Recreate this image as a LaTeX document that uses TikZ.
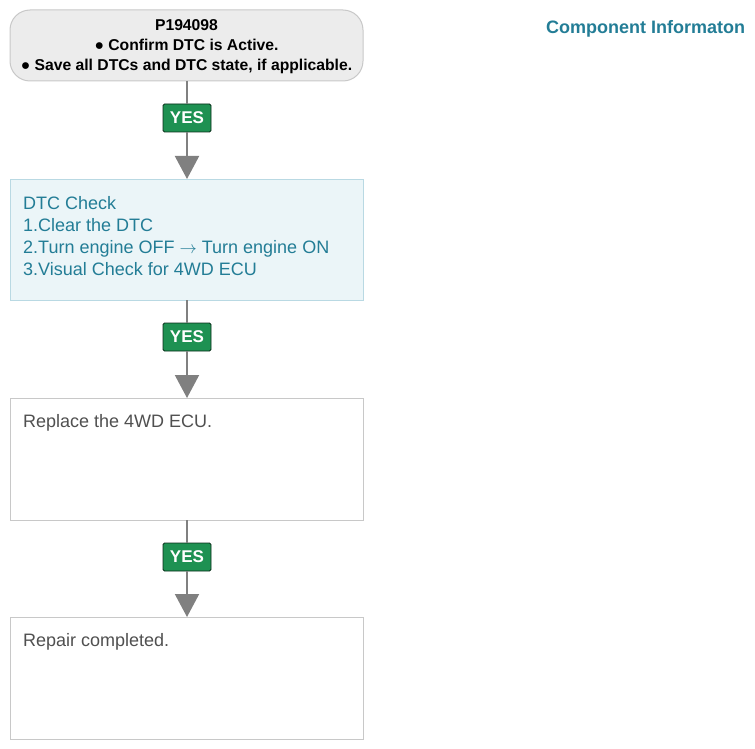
\documentclass[tikz,border=0pt]{standalone}
\usepackage{fontspec}
\setmainfont{Liberation Sans}
\usetikzlibrary{arrows.meta}
\definecolor{teal}{HTML}{237D96}
\definecolor{boxgray}{HTML}{C8C8C8}
\definecolor{topfill}{HTML}{ECECEC}
\definecolor{bluefill}{HTML}{EBF5F8}
\definecolor{blueline}{HTML}{B9D9E3}
\definecolor{yesgreen}{HTML}{1E9152}
\definecolor{linegray}{HTML}{808080}
\definecolor{txtgray}{HTML}{505050}
\begin{document}
\begin{tikzpicture}[x=1pt,y=-1pt,
  yesbox/.style={fill=yesgreen,draw=black!70!yesgreen,line width=0.8pt,rounded corners=1.5pt,minimum width=48pt,minimum height=28pt,inner sep=0pt,text=white,font=\bfseries\fontsize{17}{17}\selectfont},
  conn/.style={draw=linegray,line width=2pt},
  tip/.style={-{Triangle[length=23pt,width=24pt]},draw=linegray,fill=linegray,line width=2pt},
  boxtext/.style={anchor=base west,align=left,inner sep=0pt,font=\fontsize{18}{22}\selectfont}
]
\useasboundingbox (0,0) rectangle (755,749);
% boxes
\draw[fill=topfill,draw=boxgray,line width=1pt,rounded corners=20pt] (10,10) rectangle (363,81);
\node[anchor=base,align=center,inner sep=0pt,font=\bfseries\fontsize{15.7}{20}\selectfont] (t1) at (186.5,71) {P194098\\● Confirm DTC is Active.\\● Save all DTCs and DTC state, if applicable.};
\coordinate (b1s) at (187,81);
\draw[fill=bluefill,draw=blueline,line width=1pt] (10,179) rectangle (363,300);
\coordinate (b2n) at (187,179);
\coordinate (b2s) at (187,300);
\node[boxtext,text=teal] (t2) at (23,275) {DTC Check\\1.Clear the DTC\\2.Turn engine OFF $\rightarrow$ Turn engine ON\\3.Visual Check for 4WD ECU};
\draw[fill=white,draw=boxgray,line width=1pt] (10,398) rectangle (363,520);
\coordinate (b3n) at (187,398);
\coordinate (b3s) at (187,520);
\node[boxtext,text=txtgray] (t3) at (23,427) {Replace the 4WD ECU.};
\draw[fill=white,draw=boxgray,line width=1pt] (10,617) rectangle (363,739);
\coordinate (b4n) at (187,617);
\node[boxtext,text=txtgray] (t4) at (23,646) {Repair completed.};
% connectors
\node[yesbox] (y1) at (187,118) {YES};
\node[yesbox] (y2) at (187,337) {YES};
\node[yesbox] (y3) at (187,557) {YES};
\draw[conn] (b1s) -- (y1.north);
\draw[tip] (y1.south) -- (b2n);
\draw[conn] (b2s) -- (y2.north);
\draw[tip] (y2.south) -- (b3n);
\draw[conn] (b3s) -- (y3.north);
\draw[tip] (y3.south) -- (b4n);
\node[anchor=base west,inner sep=0pt,text=teal,font=\bfseries\fontsize{18}{20}\selectfont] (ci) at (546,34) {Component Informaton};
\end{tikzpicture}
\end{document}
